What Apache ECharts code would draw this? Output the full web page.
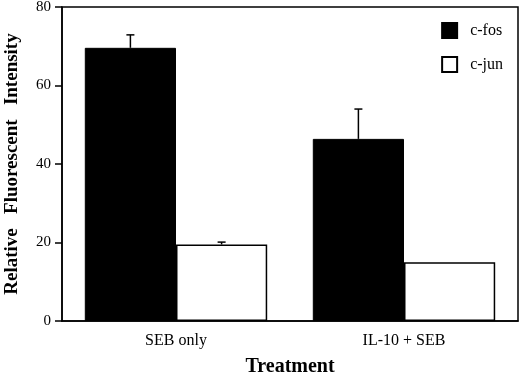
<!DOCTYPE html>
<html>
<head>
<meta charset="utf-8">
<script src="https://cdn.jsdelivr.net/npm/echarts@6/dist/echarts.min.js"></script>
<style>
  html, body { margin: 0; padding: 0; background: #fff; }
  #chart { width: 520px; height: 383px; }
</style>
</head>
<body>
<div id="chart"></div>
<script>
// 数据
var categories = ['SEB only', 'IL-10 + SEB'];
var fosValues = [69.6, 46.4];
var jun_values = [19.5, 15.0];
var fosErrTop = [72.9, 54.0];
var junErrTop = [20.1, 15.0];
var yTicks = [0, 20, 40, 60, 80];

var serif = '"Liberation Serif", "DejaVu Serif", serif';

// 误差线 (custom series)
function errorBars(errTop, values, side) {
    var data = [];
    for (var i = 0; i < categories.length; i++) {
        data.push([i, values[i], errTop[i]]);
    }
    return {
        type: 'custom',
        name: 'err' + side,
        data: data,
        z: 10,
        silent: true,
        renderItem: function (params, api) {
            var band = api.size([1, 0])[0];
            var off = side * band * 0.2;
            var base = api.coord([api.value(0), api.value(1)]);
            var top = api.coord([api.value(0), api.value(2)]);
            var x = base[0] + off;
            if (Math.abs(base[1] - top[1]) < 0.5) return null;
            return {
                type: 'group',
                children: [{
                    type: 'line',
                    shape: { x1: x, y1: base[1], x2: x, y2: top[1] },
                    style: { stroke: '#000', lineWidth: 1.5 }
                }, {
                    type: 'line',
                    shape: { x1: x - 4, y1: top[1], x2: x + 4, y2: top[1] },
                    style: { stroke: '#000', lineWidth: 1.5 }
                }]
            };
        }
    };
}

var option = {
    animation: false,
    backgroundColor: '#fff',
    grid: {
        left: 62, right: 2, top: 7, bottom: 62,
        outerBoundsMode: 'none',
        containLabel: false,
        show: true,
        borderColor: '#000',
        borderWidth: 1.5
    },
    legend: {
        orient: 'vertical',
        right: 12,
        top: 17,
        icon: 'rect',
        itemWidth: 15,
        itemHeight: 15,
        itemGap: 17,
        data: ['c-fos', 'c-jun'],
        textStyle: { fontFamily: serif, fontSize: 16, color: '#000', padding: [0, 0, 0, 8] }
    },
    xAxis: {
        type: 'category',
        data: categories,
        name: 'Treatment',
        nameLocation: 'middle',
        nameGap: 36,
        nameTextStyle: { fontFamily: serif, fontSize: 20, fontWeight: 'bold', color: '#000' },
        axisLine: { lineStyle: { color: '#000', width: 1.5 } },
        axisTick: { alignWithLabel: true, length: 7, lineStyle: { color: '#000', width: 1.5 } },
        axisLabel: { fontFamily: serif, fontSize: 16, color: '#000', margin: 12 }
    },
    yAxis: {
        type: 'value',
        min: yTicks[0],
        max: yTicks[yTicks.length - 1],
        interval: 20,
        name: 'Relative   Fluorescent   Intensity',
        nameLocation: 'middle',
        nameGap: 40,
        nameTextStyle: { fontFamily: serif, fontSize: 19, fontWeight: 'bold', color: '#000' },
        splitLine: { show: false },
        axisLine: { show: true, lineStyle: { color: '#000', width: 1.5 } },
        axisTick: { show: true, length: 7, lineStyle: { color: '#000', width: 1.5 } },
        axisLabel: { fontFamily: serif, fontSize: 15, color: '#000', margin: 11 }
    },
    series: [{
        name: 'c-fos',
        type: 'bar',
        data: fosValues,
        barGap: '0%',
        barCategoryGap: '20%',
        itemStyle: { color: '#000', borderColor: '#000', borderWidth: 1 }
    }, {
        name: 'c-jun',
        type: 'bar',
        data: jun_values,
        itemStyle: { color: '#fff', borderColor: '#000', borderWidth: 1.5 }
    },
    errorBars(fosErrTop, fosValues, -1),
    errorBars(junErrTop, jun_values, 1)
    ]
};

var myChart = echarts.init(document.getElementById('chart'));
myChart.setOption(option);
</script>
</body>
</html>
